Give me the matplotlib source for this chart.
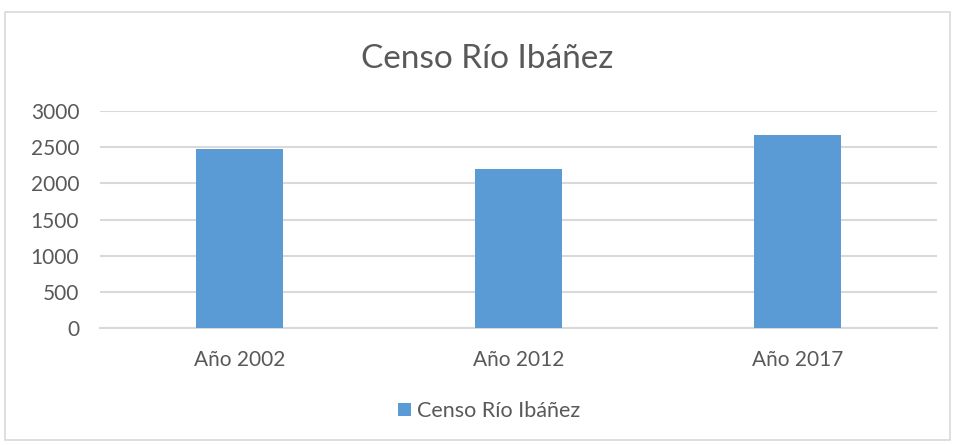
import matplotlib.pyplot as plt
from matplotlib.patches import Rectangle

categories = ["Año 2002", "Año 2012", "Año 2017"]
values = [2477, 2200, 2666]
series_name = "Censo Río Ibáñez"
yticks = [0, 500, 1000, 1500, 2000, 2500, 3000]

bar_color = "#5b9bd5"
text_color = "#595959"
grid_color = "#d9d9d9"

plt.rcParams['font.family'] = ['Lato', 'DejaVu Sans']

fig = plt.figure(figsize=(9.54, 4.45), dpi=100)
# outer chart border
fig.patches.append(Rectangle((5 / 954, 5 / 445), 945 / 954, 428 / 445,
                             transform=fig.transFigure, fill=False,
                             edgecolor=grid_color, linewidth=1.2))

ax = fig.add_axes([100 / 954, (445 - 328) / 445, 837 / 954, 217 / 445])
ax.bar(range(len(categories)), values, width=0.31, color=bar_color,
       label=series_name, zorder=3)
ax.set_xlim(-0.5, len(categories) - 0.5)
ax.set_ylim(0, 3000)
ax.set_yticks(yticks)
ax.set_xticks(range(len(categories)))
ax.set_xticklabels(categories)
ax.grid(axis='y', color=grid_color, linewidth=1.5, zorder=0)
for s in ['top', 'right', 'left']:
    ax.spines[s].set_visible(False)
ax.spines['bottom'].set_color(grid_color)
ax.spines['bottom'].set_linewidth(1.5)
ax.tick_params(length=0, labelsize=15, colors=text_color)
ax.tick_params(axis='x', pad=16)
ax.tick_params(axis='y', pad=15)

fig.text(487 / 954, 1 - 59 / 445, series_name, ha='center', va='center',
         fontsize=24, color=text_color)

ax.legend(loc='center', bbox_to_anchor=(0.5 + 12 / 954, (445 - 411) / 445),
          bbox_transform=fig.transFigure, frameon=False, fontsize=15.5,
          labelcolor=text_color, handlelength=0.6, handleheight=0.6,
          handletextpad=0.3)

fig.savefig("out.png", dpi=100)
